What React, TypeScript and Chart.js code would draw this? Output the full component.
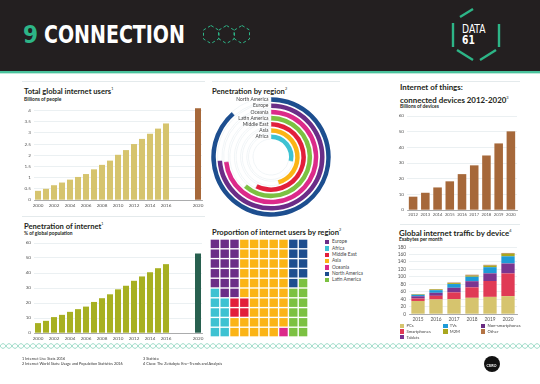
import React, { useEffect, useRef } from "react";
import { Chart, registerables } from "chart.js";

Chart.register(...registerables);

// ---------------- DATA ----------------
const userYears = ["2000","2001","2002","2003","2004","2005","2006","2007","2008","2009","2010","2011","2012","2013","2014","2015","2016","2017","2018","2019","2020"];
const userTickLabels = ["2000","2002","2004","2006","2008","2010","2012","2014","2016","2020"];
const usersBillions = [0.41,0.5,0.66,0.78,0.91,1.03,1.16,1.37,1.57,1.76,2.02,2.23,2.5,2.73,2.96,3.19,3.42,null,null,null,4.1];
const penetrationPct = [6.6,8.1,10.6,12.1,14.1,15.9,17.6,20.7,23.2,25.8,29.1,31.5,34.8,37.7,40.5,43.2,45.9,null,null,null,53];

const regionNames = ["North America","Europe","Oceania","Latin America","Middle East","Asia","Africa"];
const regionPenetrationPct = [88.6,73.9,73.3,61.5,57.4,45.6,28.3];

const waffleRegions = ["Europe","Africa","Middle East","Asia","Oceania","North America","Latin America"];
const waffleCodes = ["E","F","M","A","O","N","L"];
const waffleRows = [
  "EEEAAAAANN",
  "EEEAAAAANN",
  "EEEAAAAANN",
  "EEEAAAAANN",
  "EEEAAAAANL",
  "FEEAAAAALL",
  "FFMMAAAALL",
  "FFMMAAAALL",
  "FFAAAAAALL",
  "FFAAAAAOLL",
];

const iotYears = ["2012","2013","2014","2015","2016","2017","2018","2019","2020"];
const iotDevicesBillions = [8.5,11,14.4,18.3,22.9,28.5,34.8,42.5,50.2];

const trafficYears = ["2015","2016","2017","2018","2019","2020"];
const trafficPCs = [35,39,40,43.5,46,48];
const trafficSmartphones = [6.6,9.8,18,28,42.6,61];
const trafficTablets = [6,7.8,12,16.5,20.5,26.5];
const trafficNonSmartphones = [0.4,0.4,0.5,0.6,0.5,0.5];
const trafficTVs = [3.6,7,10,11.4,16.2,19];
const trafficM2M = [1.4,2,2.5,3,4.3,7];
const trafficOther = [0.8,1,1.5,2.5,2,2];
const trafficLegendOrder = ["PCs","TVs","Non-smartphones","Smartphones","M2M","Other","Tablets"];

const footnotes = [
  "1 Internet Live Stats 2016",
  "2 Internet World Stats: Usage and Population Statistics 2016",
  "3 Statista",
  "4 Cisco: The Zettabyte Era\u2014Trends and Analysis",
];

// ---------------- STYLE ----------------
const FONT = "Lato, 'Open Sans', sans-serif";
const HEAD_FONT = "'DejaVu Sans Condensed', 'DejaVu Sans', sans-serif";
const GOLD = "#d6c46e";
const BROWN = "#a6683a";
const LIME = "#a7b022";
const DKGREEN = "#28604f";
const TEAL = "#2db587";
const REGION_COLORS: Record<string, string> = {
  "North America": "#1d4e8f",
  "Europe": "#6b2d87",
  "Oceania": "#dc2a8a",
  "Latin America": "#7cc142",
  "Middle East": "#e21f3b",
  "Asia": "#fbb416",
  "Africa": "#3ec2d2",
};
const TRAFFIC_COLORS: Record<string, string> = {
  "PCs": "#d6c46e",
  "Smartphones": "#e03a55",
  "Tablets": "#7a3590",
  "Non-smartphones": "#6a2b82",
  "TVs": "#1e9bd7",
  "M2M": "#a9a71f",
  "Other": "#b47444",
};

const tickFont = (size: number) => ({ family: FONT, size });

const xAxis = (size: number, shown?: string[]) => ({
  type: "category",
  offset: true,
  grid: { display: false, drawTicks: false },
  border: { display: true, color: "#8f8f8f", width: 0.7 },
  ticks: {
    font: tickFont(size),
    color: "#555",
    padding: 2.5,
    maxRotation: 0,
    minRotation: 0,
    autoSkip: false,
    callback(this: any, v: any) {
      const l = this.getLabelForValue(v);
      return !shown || shown.includes(l) ? l : "";
    },
  },
  afterFit(s: any) { s.height = 10; },
});

const yAxis = (max: number, step: number, size: number, stacked = false) => ({
  min: 0,
  max,
  stacked,
  grid: { color: "#dde5ea", lineWidth: 0.6, drawTicks: false },
  border: { display: false },
  ticks: {
    stepSize: step,
    includeBounds: false,
    autoSkip: false,
    font: tickFont(size),
    color: "#555",
    padding: 3,
    callback: (v: any) => String(Math.round(Number(v) * 100) / 100),
  },
  afterFit(s: any) { s.width = 20; },
});

const baseOpts = {
  responsive: false,
  animation: false,
  events: [],
  layout: { padding: { top: 6, right: 6, bottom: 0, left: 0 } },
  plugins: { legend: { display: false }, tooltip: { enabled: false } },
};

const usersConfig = () => ({
  type: "bar",
  data: {
    labels: userYears,
    datasets: [{
      data: usersBillions,
      backgroundColor: usersBillions.map((_, i) => (i === usersBillions.length - 1 ? BROWN : GOLD)),
      barPercentage: 0.75,
      categoryPercentage: 1,
    }],
  },
  options: { ...baseOpts, scales: { x: xAxis(4.6, userTickLabels), y: yAxis(4.2, 0.5, 4.6) } },
});

const penetrationConfig = () => ({
  type: "bar",
  data: {
    labels: userYears,
    datasets: [{
      data: penetrationPct,
      backgroundColor: penetrationPct.map((_, i) => (i === penetrationPct.length - 1 ? DKGREEN : LIME)),
      barPercentage: 0.75,
      categoryPercentage: 1,
    }],
  },
  options: { ...baseOpts, scales: { x: xAxis(4.6, userTickLabels), y: yAxis(60, 10, 4.6) } },
});

const iotConfig = () => ({
  type: "bar",
  data: {
    labels: iotYears,
    datasets: [{ data: iotDevicesBillions, backgroundColor: BROWN, barPercentage: 0.7, categoryPercentage: 1 }],
  },
  options: { ...baseOpts, scales: { x: xAxis(4.2), y: yAxis(60, 10, 4.6) } },
});

const trafficConfig = () => {
  const series: [string, number[]][] = [
    ["PCs", trafficPCs],
    ["Smartphones", trafficSmartphones],
    ["Tablets", trafficTablets],
    ["Non-smartphones", trafficNonSmartphones],
    ["TVs", trafficTVs],
    ["M2M", trafficM2M],
    ["Other", trafficOther],
  ];
  return {
    type: "bar",
    data: {
      labels: trafficYears,
      datasets: series.map(([name, vals]) => ({
        label: name,
        data: vals,
        backgroundColor: TRAFFIC_COLORS[name],
        barPercentage: 0.74,
        categoryPercentage: 1,
      })),
    },
    options: {
      ...baseOpts,
      scales: { x: { ...xAxis(4.8), stacked: true }, y: yAxis(180, 20, 4.8, true) },
    },
  };
};

const ringLabels = {
  id: "ringLabels",
  afterDatasetsDraw(chart: any) {
    const ctx = chart.ctx;
    ctx.save();
    ctx.font = `5px ${FONT}`;
    ctx.textAlign = "right";
    ctx.textBaseline = "middle";
    ctx.fillStyle = "#444";
    chart.data.datasets.forEach((ds: any, i: number) => {
      if (!ds.label) return;
      const arc = chart.getDatasetMeta(i).data[0];
      const r = (arc.innerRadius + arc.outerRadius) / 2;
      ctx.fillText(ds.label, arc.x - 2.5, arc.y - r);
    });
    ctx.restore();
  },
};

const ringConfig = () => {
  const datasets: any[] = [];
  regionNames.forEach((name, i) => {
    if (i > 0) datasets.push({ label: "", data: [100], backgroundColor: ["rgba(0,0,0,0)"], borderWidth: 0, weight: 1.7 });
    const v = regionPenetrationPct[i];
    datasets.push({
      label: name,
      data: [v, 100 - v],
      backgroundColor: [REGION_COLORS[name], "rgba(0,0,0,0)"],
      borderColor: ["rgba(0,0,0,0)", "#e3eaee"],
      borderWidth: [0, 0.5],
      weight: 4.5,
    });
  });
  return {
    type: "doughnut",
    data: { labels: ["value", "rest"], datasets },
    options: {
      responsive: false,
      animation: false,
      events: [],
      cutout: 18,
      rotation: 0,
      layout: { padding: 0 },
      plugins: { legend: { display: false }, tooltip: { enabled: false } },
    },
    plugins: [ringLabels],
  };
};

const codeColor = (ch: string) => REGION_COLORS[waffleRegions[waffleCodes.indexOf(ch)]];

// waffle: one floating-bar dataset per column, one bar per row
const waffleConfig = () => ({
  type: "bar",
  data: {
    labels: waffleRows.map((_, r) => `row${r}`),
    datasets: Array.from({ length: 10 }, (_, c) => ({
      label: `col${c}`,
      data: waffleRows.map(() => [c + 0.07, c + 0.93]),
      backgroundColor: waffleRows.map((row) => codeColor(row[c])),
      borderWidth: 0,
      barPercentage: 0.86,
      categoryPercentage: 1,
      grouped: false,
    })),
  },
  options: {
    indexAxis: "y",
    responsive: false,
    animation: false,
    events: [],
    layout: { padding: 0 },
    plugins: { legend: { display: false }, tooltip: { enabled: false } },
    scales: {
      x: { type: "linear", min: 0, max: 10, display: false },
      y: { type: "category", offset: true, display: false },
    },
  },
});

// ---------------- COMPONENTS ----------------
function ChartCanvas({ x, y, w, h, make }: { x: number; y: number; w: number; h: number; make: () => any }) {
  const ref = useRef<HTMLCanvasElement>(null);
  useEffect(() => {
    const c = new Chart(ref.current as HTMLCanvasElement, make());
    return () => c.destroy();
  }, []);
  return (
    <canvas
      ref={ref}
      width={w}
      height={h}
      style={{ position: "absolute", left: x, top: y, width: w, height: h }}
    />
  );
}

function Txt({ x, y, size, weight = 400, color = "#231f20", family = FONT, children, style }: any) {
  return (
    <div
      style={{
        position: "absolute",
        left: x,
        top: y - size * 0.6,
        fontSize: size,
        lineHeight: `${size * 1.2}px`,
        fontWeight: weight,
        color,
        fontFamily: family,
        whiteSpace: "nowrap",
        ...style,
      }}
    >
      {children}
    </div>
  );
}

function Sup({ n }: { n: number }) {
  return <span style={{ fontSize: "0.5em", verticalAlign: "super", fontWeight: 400 }}>{n}</span>;
}

function Rule({ x1, x2, y }: { x1: number; x2: number; y: number }) {
  return <div style={{ position: "absolute", left: x1, top: y, width: x2 - x1, height: 1, background: "#e4eaec" }} />;
}

function hexPoints(cx: number, cy: number, w: number, h: number) {
  return [
    [cx, cy - h / 2],
    [cx + w / 2, cy - h / 4],
    [cx + w / 2, cy + h / 4],
    [cx, cy + h / 2],
    [cx - w / 2, cy + h / 4],
    [cx - w / 2, cy - h / 4],
  ].map((p) => p.join(",")).join(" ");
}

function wavePath(y: number, amp: number, period: number, phase: number) {
  let d = `M ${-period + phase} ${y}`;
  for (let x = -period + phase; x < 560; x += period) {
    d += ` q ${period / 4} ${-amp * 2} ${period / 2} 0 q ${period / 4} ${amp * 2} ${period / 2} 0`;
  }
  return d;
}

export default function App() {
  return (
    <div
      style={{
        position: "fixed",
        left: 0,
        top: 0,
        width: 540,
        height: 384,
        overflow: "hidden",
        background: "#ffffff",
        fontFamily: FONT,
      }}
    >
      {/* Header */}
      <div style={{ position: "absolute", left: 0, top: 0, width: 540, height: 71, background: "#231f20" }} />
      <div style={{ position: "absolute", left: 0, top: 71, width: 540, height: 2, background: "#49c29c" }} />
      <div style={{ position: "absolute", left: 0, top: 73, width: 540, height: 1, background: "#bde9da" }} />
      <Txt x={23} y={35} size={24} weight={700} color={TEAL} family={HEAD_FONT}>9</Txt>
      <Txt x={44} y={35} size={24} weight={700} color="#ffffff" family={HEAD_FONT} style={{ transform: "scaleX(0.88)", transformOrigin: "left center" }}>
        CONNECTION
      </Txt>
      <svg style={{ position: "absolute", left: 0, top: 0 }} width={540} height={72}>
        {[211, 226.5, 242].map((cx) => (
          <polygon key={cx} points={hexPoints(cx, 34.5, 15, 18)} fill="none" stroke={TEAL} strokeWidth={1} strokeDasharray="3 2.5" />
        ))}
        <g stroke={TEAL} strokeWidth={2.4} strokeLinecap="butt">
          <line x1={453} y1={23} x2={453} y2={47} />
          <line x1={499} y1={24} x2={499} y2={47} />
          <line x1={460} y1={17} x2={473} y2={9} />
          <line x1={457} y1={50} x2={473} y2={60} />
          <line x1={480} y1={60} x2={496} y2={50} />
        </g>
      </svg>
      <Txt x={462} y={29} size={12} weight={400} color="#ffffff" family={HEAD_FONT} style={{ transform: "scaleX(0.85)", transformOrigin: "left center" }}>
        DATA
      </Txt>
      <Txt x={462} y={40} size={12} weight={700} color="#ffffff" family={HEAD_FONT} style={{ transform: "scaleX(0.85)", transformOrigin: "left center" }}>
        61
      </Txt>

      {/* Separator rules */}
      <Rule x1={22} x2={205} y={81} />
      <Rule x1={212} x2={340} y={81} />
      <Rule x1={400} x2={520} y={81} />
      <Rule x1={22} x2={205} y={216} />
      <Rule x1={400} x2={520} y={224} />

      {/* Panel 1 */}
      <Txt x={24} y={88.5} size={7.6} weight={700}>Total global internet users<Sup n={1} /></Txt>
      <Txt x={24} y={100} size={4.9} weight={700}>Billions of people</Txt>
      <ChartCanvas x={14} y={100} w={194} h={110} make={usersConfig} />

      {/* Panel 2 */}
      <Txt x={24} y={223.3} size={7.6} weight={700}>Penetration of internet<Sup n={1} /></Txt>
      <Txt x={24} y={234} size={4.9} weight={700}>% of global population</Txt>
      <ChartCanvas x={14} y={237} w={194} h={106} make={penetrationConfig} />

      {/* Panel 3 */}
      <Txt x={212} y={88.5} size={7.6} weight={700}>Penetration by region<Sup n={2} /></Txt>
      <ChartCanvas x={211} y={97} w={120} h={120} make={ringConfig} />

      {/* Panel 4 */}
      <Txt x={212} y={230} size={7.6} weight={700}>Proportion of internet users by region<Sup n={2} /></Txt>
      <ChartCanvas x={210} y={239} w={98} h={98} make={waffleConfig} />
      {waffleRegions.map((name, i) => (
        <React.Fragment key={name}>
          <div style={{ position: "absolute", left: 325, top: 242.3 + i * 6.33 - 2.2, width: 4.4, height: 4.4, background: REGION_COLORS[name] }} />
          <Txt x={332} y={242.3 + i * 6.33} size={4.8} color="#444">{name}</Txt>
        </React.Fragment>
      ))}

      {/* Panel 5 */}
      <Txt x={400} y={87.3} size={7.9} weight={700}>Internet of things:</Txt>
      <Txt x={400} y={97.3} size={7.9} weight={700}>connected devices 2012-2020<Sup n={3} /></Txt>
      <Txt x={400} y={106.7} size={4.9} weight={700}>Billions of devices</Txt>
      <ChartCanvas x={387} y={110} w={136} h={110} make={iotConfig} />

      {/* Panel 6 */}
      <Txt x={399} y={230.7} size={7.9} weight={700}>Global internet traffic by device<Sup n={4} /></Txt>
      <Txt x={399} y={240} size={4.9} weight={700}>Exabytes per month</Txt>
      <ChartCanvas x={389} y={241} w={134} h={83} make={trafficConfig} />
      {trafficLegendOrder.map((name, i) => {
        const col = i % 3;
        const row = Math.floor(i / 3);
        const lx = [400, 443.3, 481][col];
        const ly = 325.7 + row * 5.8;
        return (
          <React.Fragment key={name}>
            <div style={{ position: "absolute", left: lx, top: ly - 2.2, width: 4.4, height: 4.4, background: TRAFFIC_COLORS[name] }} />
            <Txt x={lx + 6.5} y={ly} size={4.2} color="#444">{name}</Txt>
          </React.Fragment>
        );
      })}

      {/* Bottom decoration */}
      <svg style={{ position: "absolute", left: 0, top: 338 }} width={540} height={16}>
        <path d={wavePath(8, 2.4, 12, 0)} fill="none" stroke="#9edbc8" strokeWidth={1} />
        <path d={wavePath(8, 2.4, 12, 6)} fill="none" stroke="#9edbc8" strokeWidth={1} />
      </svg>

      {/* Footnotes */}
      <Txt x={22} y={359} size={3.8} color="#333">{footnotes[0]}</Txt>
      <Txt x={22} y={364.3} size={3.8} color="#333">{footnotes[1]}</Txt>
      <Txt x={143} y={359} size={3.8} color="#333">{footnotes[2]}</Txt>
      <Txt x={143} y={364.3} size={3.8} color="#333">{footnotes[3]}</Txt>

      {/* CSIRO mark */}
      <div style={{ position: "absolute", left: 484, top: 356, width: 16, height: 16, borderRadius: 8, background: "#111" }} />
      <Txt x={486.5} y={366} size={3.4} weight={700} color="#fff">CSIRO</Txt>
    </div>
  );
}
